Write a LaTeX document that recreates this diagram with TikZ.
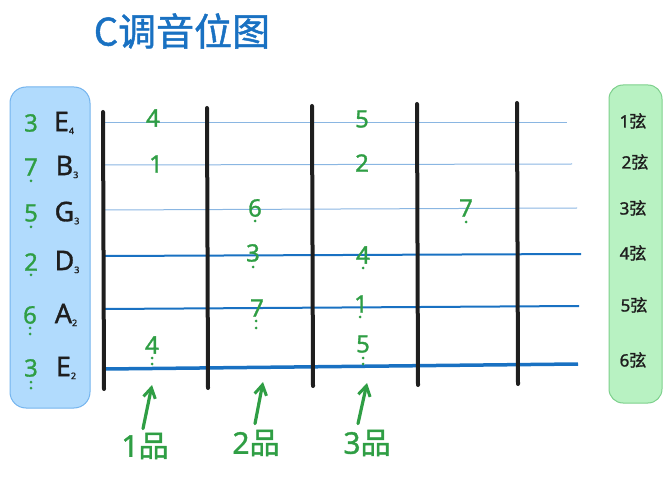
\documentclass[tikz,border=0pt]{standalone}
\usepackage{fontspec}
\setmainfont{Noto Sans}
\newfontfamily\numfont[FakeBold=1.2]{Noto Sans}
\newfontfamily\cjk{Noto Sans CJK SC}
\newfontfamily\cjkb[FakeBold=1.2]{Noto Sans CJK SC}
\usetikzlibrary{arrows.meta}
\definecolor{tblue}{HTML}{1971C2}
\definecolor{lblue}{HTML}{8AB6E2}
\definecolor{ngreen}{HTML}{2F9E44}
\definecolor{boxblue}{HTML}{B1DBFD}
\definecolor{boxbluedraw}{HTML}{74B4EE}
\definecolor{boxgreen}{HTML}{B8F2C2}
\definecolor{boxgreendraw}{HTML}{7DD08C}
\definecolor{ink}{HTML}{1E1E1E}
\tikzset{
  fret/.style={line width=4pt, ink, line cap=round},
  thinstr/.style={line width=1pt, lblue},
  thickstr/.style={line width=2pt, tblue},
  num/.style={text=ngreen, font=\numfont\fontsize{24}{26}\selectfont, inner sep=0pt},
  note/.style={text=ink, font=\numfont\fontsize{27}{28}\selectfont, inner sep=0pt},
  strlab/.style={text=ink, font=\numfont\fontsize{17}{19}\selectfont, inner sep=0pt},
  fretlab/.style={text=ngreen, font=\numfont\fontsize{30}{32}\selectfont, inner sep=0pt},
  up/.style={line width=3.2pt, ngreen, line cap=round, -{Straight Barb[length=10pt,width=12pt,line width=3pt]}},
}
\newcommand{\dotb}[2]{\fill[ngreen] (#1,#2) circle (1.5);}
\newcommand{\subn}[1]{\raisebox{-3pt}{\fontsize{9}{9}\selectfont #1}}
\begin{document}
\begin{tikzpicture}[x=1pt,y=-1pt]
\useasboundingbox (0,0) rectangle (672,478);
% title
\node[text=tblue, font=\cjkb\fontsize{38}{40}\selectfont, inner sep=0pt] (title) at (182,31) {C调音位图};
% side boxes
\node[draw=boxbluedraw, fill=boxblue, line width=1pt, rounded corners=16pt, minimum width=80pt, minimum height=321pt, inner sep=0pt] (lbox) at (50,247.5) {};
\node[draw=boxgreendraw, fill=boxgreen, line width=1pt, rounded corners=14pt, minimum width=53pt, minimum height=318pt, inner sep=0pt] (rbox) at (635.5,244) {};
% strings
\coordinate (s1a) at (105,123); \coordinate (s1b) at (567,123);
\coordinate (s2a) at (105,165); \coordinate (s2b) at (572,164);
\coordinate (s3a) at (105,210); \coordinate (s3b) at (577,208);
\coordinate (s4a) at (105,256); \coordinate (s4b) at (581,254);
\coordinate (s5a) at (105,309); \coordinate (s5b) at (579,306);
\coordinate (s6a) at (105,369); \coordinate (s6b) at (578,364);
\draw[thinstr] (s1a) -- (s1b);
\draw[thinstr] (s2a) -- (s2b);
\draw[thinstr] (s3a) -- (s3b);
\draw[thickstr] (s4a) -- (s4b);
\draw[thickstr] (s5a) -- (s5b);
\draw[thickstr, line width=3.5pt] (s6a) -- (s6b);
% frets
\coordinate (f0a) at (103,112); \coordinate (f0b) at (104,389);
\coordinate (f1a) at (207,108); \coordinate (f1b) at (208,388);
\coordinate (f2a) at (312,106); \coordinate (f2b) at (313,386);
\coordinate (f3a) at (417,104); \coordinate (f3b) at (418,385);
\coordinate (f4a) at (517,103); \coordinate (f4b) at (518,384);
\draw[fret] (f0a) -- (f0b);
\draw[fret] (f1a) -- (f1b);
\draw[fret] (f2a) -- (f2b);
\draw[fret] (f3a) -- (f3b);
\draw[fret] (f4a) -- (f4b);
% left labels
\node[num] (l1) at (31,123) {3};  \node[note] (n1) at (64,123) {E\subn{4}};
\node[num] (l2) at (31,167) {7};  \node[note] (n2) at (67,167) {B\subn{3}};
\dotb{31}{181}
\node[num] (l3) at (31,213) {5};  \node[note] (n3) at (67,213) {G\subn{3}};
\dotb{31}{227}
\node[num] (l4) at (31,262) {2};  \node[note] (n4) at (67,262) {D\subn{3}};
\dotb{31}{275}
\node[num] (l5) at (30,315) {6};  \node[note] (n5) at (66,315) {A\subn{2}};
\dotb{30}{328}\dotb{30}{334}
\node[num] (l6) at (31,368) {3};  \node[note] (n6) at (66,368) {E\subn{2}};
\dotb{31}{382}\dotb{31}{388}
% fretboard numbers
\node[num] (a1) at (153,118) {4};
\node[num] (a2) at (362,119) {5};
\node[num] (b1) at (156,164) {1};
\node[num] (b2) at (362,163) {2};
\node[num] (c1) at (255,208) {6}; \dotb{255}{221}
\node[num] (c2) at (466,208) {7}; \dotb{466}{222}
\node[num] (d1) at (253,253) {3}; \dotb{253}{267}
\node[num] (d2) at (363,255) {4}; \dotb{363}{268}
\node[num] (e1) at (257,308) {7}; \dotb{256}{321}\dotb{256}{328}
\node[num] (e2) at (361,304) {1}; \dotb{360}{317}
\node[num] (g1) at (152,345) {4}; \dotb{152}{358}\dotb{152}{364}
\node[num] (g2) at (363,344) {5}; \dotb{363}{358}\dotb{363}{364}
% string labels
\node[strlab] (r1) at (633,121) {1{\cjkb 弦}};
\node[strlab] (r2) at (635,162) {2{\cjkb 弦}};
\node[strlab] (r3) at (633,208) {3{\cjkb 弦}};
\node[strlab] (r4) at (633,253) {4{\cjkb 弦}};
\node[strlab] (r5) at (634,305) {5{\cjkb 弦}};
\node[strlab] (r6) at (633,360) {6{\cjkb 弦}};
% fret labels and arrows
\node[fretlab] (p1) at (145,446) {1{\cjkb 品}};
\node[fretlab] (p2) at (256,443) {2{\cjkb 品}};
\node[fretlab] (p3) at (367,443) {3{\cjkb 品}};
\coordinate (t1) at (152,385); \coordinate (t2) at (263,382); \coordinate (t3) at (367,383);
\draw[up] (p1.north) ++(-2,-4) -- (t1);
\draw[up] (p2.north) ++(-1,-6) -- (t2);
\draw[up] (p3.north) ++(-9,-6) -- (t3);
\end{tikzpicture}
\end{document}
